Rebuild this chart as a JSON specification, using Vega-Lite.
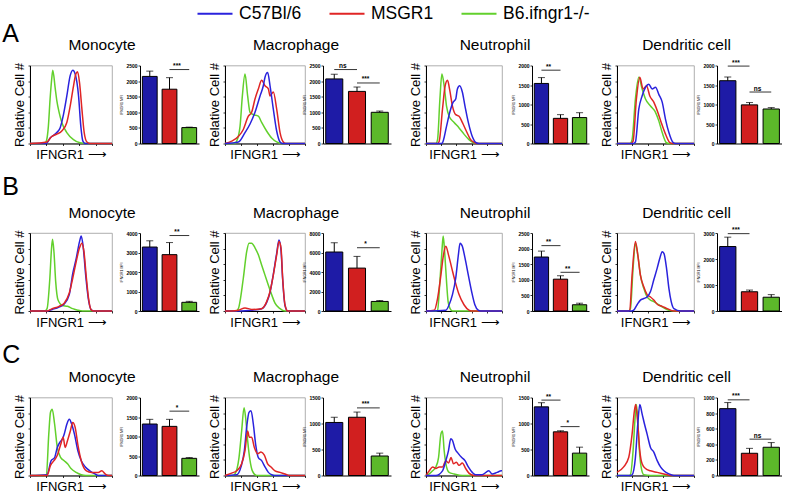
{
"$schema":"https://vega.github.io/schema/vega-lite/v6.json",
"padding":{"left":2,"top":-5.5,"right":0,"bottom":0},
"config":{
 "font":"Liberation Sans",
 "view":{"stroke":null},
 "title":{"font":"Liberation Sans","fontSize":15.5,"fontWeight":"normal","color":"#000","anchor":"middle","frame":"group","dx":31,"offset":9,"baseline":"alphabetic"},
 "axis":{"grid":false,"domainColor":"#000","domainWidth":1,"tickColor":"#000","tickWidth":0.8,"tickSize":2,"labelColor":"#000","titleColor":"#000","labelFont":"Liberation Sans","titleFont":"Liberation Sans","titleFontWeight":"normal"},
 "axisX":{"labels":false,"titleFontSize":13,"titlePadding":3,"tickCount":6},
 "axisXBand":{"ticks":false},
 "axisY":{"labelFontSize":5,"labelFontWeight":"bold","labelPadding":1,"labelOverlap":false,"labelBound":false,"format":"d","titleFontSize":3.5,"titlePadding":2,"tickCount":12}
},
"datasets":{
"hist":[
{"p":"A1","s":"B6.ifngr1-/-","x":0,"y":0},{"p":"A1","s":"B6.ifngr1-/-","x":18,"y":0},{"p":"A1","s":"B6.ifngr1-/-","x":20.4,"y":5},{"p":"A1","s":"B6.ifngr1-/-","x":22.4,"y":22},{"p":"A1","s":"B6.ifngr1-/-","x":24.5,"y":57},{"p":"A1","s":"B6.ifngr1-/-","x":26.5,"y":83},{"p":"A1","s":"B6.ifngr1-/-","x":27.8,"y":94},{"p":"A1","s":"B6.ifngr1-/-","x":30.6,"y":72},{"p":"A1","s":"B6.ifngr1-/-","x":32.7,"y":55},{"p":"A1","s":"B6.ifngr1-/-","x":35.5,"y":40},{"p":"A1","s":"B6.ifngr1-/-","x":38.8,"y":27},{"p":"A1","s":"B6.ifngr1-/-","x":44.9,"y":14},{"p":"A1","s":"B6.ifngr1-/-","x":53,"y":5},{"p":"A1","s":"B6.ifngr1-/-","x":61,"y":1},{"p":"A1","s":"B6.ifngr1-/-","x":70,"y":0},{"p":"A1","s":"B6.ifngr1-/-","x":100,"y":0},
{"p":"A1","s":"C57Bl/6","x":0,"y":0},{"p":"A1","s":"C57Bl/6","x":20,"y":0},{"p":"A1","s":"C57Bl/6","x":24.5,"y":7},{"p":"A1","s":"C57Bl/6","x":32.7,"y":14},{"p":"A1","s":"C57Bl/6","x":36.7,"y":20},{"p":"A1","s":"C57Bl/6","x":40.8,"y":37},{"p":"A1","s":"C57Bl/6","x":44.9,"y":61},{"p":"A1","s":"C57Bl/6","x":49,"y":87},{"p":"A1","s":"C57Bl/6","x":52.2,"y":94},{"p":"A1","s":"C57Bl/6","x":55.1,"y":89},{"p":"A1","s":"C57Bl/6","x":59.2,"y":61},{"p":"A1","s":"C57Bl/6","x":62,"y":22},{"p":"A1","s":"C57Bl/6","x":64.5,"y":3},{"p":"A1","s":"C57Bl/6","x":67.3,"y":0},{"p":"A1","s":"C57Bl/6","x":100,"y":0},
{"p":"A1","s":"MSGR1","x":0,"y":0},{"p":"A1","s":"MSGR1","x":20.4,"y":2},{"p":"A1","s":"MSGR1","x":26.5,"y":9},{"p":"A1","s":"MSGR1","x":32.7,"y":12},{"p":"A1","s":"MSGR1","x":38.8,"y":16},{"p":"A1","s":"MSGR1","x":44.9,"y":27},{"p":"A1","s":"MSGR1","x":49,"y":48},{"p":"A1","s":"MSGR1","x":53.1,"y":74},{"p":"A1","s":"MSGR1","x":55.9,"y":89},{"p":"A1","s":"MSGR1","x":58,"y":92},{"p":"A1","s":"MSGR1","x":60.4,"y":78},{"p":"A1","s":"MSGR1","x":63.3,"y":44},{"p":"A1","s":"MSGR1","x":66.1,"y":14},{"p":"A1","s":"MSGR1","x":69.4,"y":2},{"p":"A1","s":"MSGR1","x":73.5,"y":0},{"p":"A1","s":"MSGR1","x":100,"y":0},

{"p":"A2","s":"B6.ifngr1-/-","x":0,"y":0},{"p":"A2","s":"B6.ifngr1-/-","x":12,"y":0},{"p":"A2","s":"B6.ifngr1-/-","x":14.6,"y":3},{"p":"A2","s":"B6.ifngr1-/-","x":18.8,"y":22},{"p":"A2","s":"B6.ifngr1-/-","x":21.7,"y":61},{"p":"A2","s":"B6.ifngr1-/-","x":25,"y":89},{"p":"A2","s":"B6.ifngr1-/-","x":28.3,"y":61},{"p":"A2","s":"B6.ifngr1-/-","x":31.3,"y":40},{"p":"A2","s":"B6.ifngr1-/-","x":35.4,"y":37},{"p":"A2","s":"B6.ifngr1-/-","x":41.7,"y":35},{"p":"A2","s":"B6.ifngr1-/-","x":45.8,"y":27},{"p":"A2","s":"B6.ifngr1-/-","x":52,"y":16},{"p":"A2","s":"B6.ifngr1-/-","x":58.3,"y":7},{"p":"A2","s":"B6.ifngr1-/-","x":64.6,"y":2},{"p":"A2","s":"B6.ifngr1-/-","x":70,"y":0},{"p":"A2","s":"B6.ifngr1-/-","x":100,"y":0},
{"p":"A2","s":"MSGR1","x":0,"y":0},{"p":"A2","s":"MSGR1","x":8.3,"y":3},{"p":"A2","s":"MSGR1","x":16.7,"y":9},{"p":"A2","s":"MSGR1","x":22.9,"y":18},{"p":"A2","s":"MSGR1","x":29.2,"y":35},{"p":"A2","s":"MSGR1","x":33.3,"y":40},{"p":"A2","s":"MSGR1","x":37.5,"y":57},{"p":"A2","s":"MSGR1","x":41.7,"y":70},{"p":"A2","s":"MSGR1","x":45.8,"y":81},{"p":"A2","s":"MSGR1","x":50,"y":74},{"p":"A2","s":"MSGR1","x":54.2,"y":70},{"p":"A2","s":"MSGR1","x":56.3,"y":61},{"p":"A2","s":"MSGR1","x":60.4,"y":66},{"p":"A2","s":"MSGR1","x":64.6,"y":44},{"p":"A2","s":"MSGR1","x":68.8,"y":14},{"p":"A2","s":"MSGR1","x":72.9,"y":2},{"p":"A2","s":"MSGR1","x":76,"y":0},{"p":"A2","s":"MSGR1","x":100,"y":0},
{"p":"A2","s":"C57Bl/6","x":0,"y":0},{"p":"A2","s":"C57Bl/6","x":16.7,"y":2},{"p":"A2","s":"C57Bl/6","x":25,"y":14},{"p":"A2","s":"C57Bl/6","x":31.3,"y":25},{"p":"A2","s":"C57Bl/6","x":37.5,"y":40},{"p":"A2","s":"C57Bl/6","x":43.8,"y":61},{"p":"A2","s":"C57Bl/6","x":47.9,"y":74},{"p":"A2","s":"C57Bl/6","x":50,"y":85},{"p":"A2","s":"C57Bl/6","x":53.3,"y":91},{"p":"A2","s":"C57Bl/6","x":56.3,"y":74},{"p":"A2","s":"C57Bl/6","x":60.4,"y":44},{"p":"A2","s":"C57Bl/6","x":64.6,"y":16},{"p":"A2","s":"C57Bl/6","x":68.8,"y":2},{"p":"A2","s":"C57Bl/6","x":72,"y":0},{"p":"A2","s":"C57Bl/6","x":100,"y":0},

{"p":"A3","s":"B6.ifngr1-/-","x":0,"y":0},{"p":"A3","s":"B6.ifngr1-/-","x":13,"y":0},{"p":"A3","s":"B6.ifngr1-/-","x":15.2,"y":5},{"p":"A3","s":"B6.ifngr1-/-","x":18.3,"y":57},{"p":"A3","s":"B6.ifngr1-/-","x":20.9,"y":89},{"p":"A3","s":"B6.ifngr1-/-","x":23.9,"y":74},{"p":"A3","s":"B6.ifngr1-/-","x":27,"y":48},{"p":"A3","s":"B6.ifngr1-/-","x":30.4,"y":35},{"p":"A3","s":"B6.ifngr1-/-","x":37,"y":27},{"p":"A3","s":"B6.ifngr1-/-","x":43.5,"y":20},{"p":"A3","s":"B6.ifngr1-/-","x":50,"y":12},{"p":"A3","s":"B6.ifngr1-/-","x":56.5,"y":5},{"p":"A3","s":"B6.ifngr1-/-","x":63,"y":1},{"p":"A3","s":"B6.ifngr1-/-","x":68,"y":0},{"p":"A3","s":"B6.ifngr1-/-","x":100,"y":0},
{"p":"A3","s":"MSGR1","x":0,"y":0},{"p":"A3","s":"MSGR1","x":15,"y":0},{"p":"A3","s":"MSGR1","x":17.4,"y":3},{"p":"A3","s":"MSGR1","x":21.7,"y":44},{"p":"A3","s":"MSGR1","x":25.2,"y":74},{"p":"A3","s":"MSGR1","x":28.3,"y":81},{"p":"A3","s":"MSGR1","x":31.3,"y":68},{"p":"A3","s":"MSGR1","x":34.8,"y":48},{"p":"A3","s":"MSGR1","x":39.1,"y":37},{"p":"A3","s":"MSGR1","x":43.5,"y":35},{"p":"A3","s":"MSGR1","x":47.8,"y":27},{"p":"A3","s":"MSGR1","x":53,"y":16},{"p":"A3","s":"MSGR1","x":58.7,"y":5},{"p":"A3","s":"MSGR1","x":64.3,"y":1},{"p":"A3","s":"MSGR1","x":68,"y":0},{"p":"A3","s":"MSGR1","x":100,"y":0},
{"p":"A3","s":"C57Bl/6","x":0,"y":0},{"p":"A3","s":"C57Bl/6","x":20,"y":0},{"p":"A3","s":"C57Bl/6","x":21.7,"y":1},{"p":"A3","s":"C57Bl/6","x":27,"y":22},{"p":"A3","s":"C57Bl/6","x":31.3,"y":40},{"p":"A3","s":"C57Bl/6","x":35.7,"y":53},{"p":"A3","s":"C57Bl/6","x":39.1,"y":57},{"p":"A3","s":"C57Bl/6","x":41.3,"y":70},{"p":"A3","s":"C57Bl/6","x":44.3,"y":74},{"p":"A3","s":"C57Bl/6","x":47.8,"y":66},{"p":"A3","s":"C57Bl/6","x":51.3,"y":48},{"p":"A3","s":"C57Bl/6","x":55.7,"y":27},{"p":"A3","s":"C57Bl/6","x":60.9,"y":9},{"p":"A3","s":"C57Bl/6","x":66.1,"y":1},{"p":"A3","s":"C57Bl/6","x":70,"y":0},{"p":"A3","s":"C57Bl/6","x":100,"y":0},

{"p":"A4","s":"B6.ifngr1-/-","x":0,"y":0},{"p":"A4","s":"B6.ifngr1-/-","x":17,"y":0},{"p":"A4","s":"B6.ifngr1-/-","x":19.6,"y":5},{"p":"A4","s":"B6.ifngr1-/-","x":23.9,"y":57},{"p":"A4","s":"B6.ifngr1-/-","x":28.3,"y":85},{"p":"A4","s":"B6.ifngr1-/-","x":32.6,"y":70},{"p":"A4","s":"B6.ifngr1-/-","x":37,"y":57},{"p":"A4","s":"B6.ifngr1-/-","x":43.5,"y":48},{"p":"A4","s":"B6.ifngr1-/-","x":50,"y":40},{"p":"A4","s":"B6.ifngr1-/-","x":54.3,"y":29},{"p":"A4","s":"B6.ifngr1-/-","x":58.7,"y":14},{"p":"A4","s":"B6.ifngr1-/-","x":64.3,"y":1},{"p":"A4","s":"B6.ifngr1-/-","x":68,"y":0},{"p":"A4","s":"B6.ifngr1-/-","x":100,"y":0},
{"p":"A4","s":"MSGR1","x":0,"y":0},{"p":"A4","s":"MSGR1","x":18,"y":0},{"p":"A4","s":"MSGR1","x":20.9,"y":3},{"p":"A4","s":"MSGR1","x":25.2,"y":57},{"p":"A4","s":"MSGR1","x":29.6,"y":85},{"p":"A4","s":"MSGR1","x":33.9,"y":70},{"p":"A4","s":"MSGR1","x":38.3,"y":74},{"p":"A4","s":"MSGR1","x":42.6,"y":61},{"p":"A4","s":"MSGR1","x":47.8,"y":53},{"p":"A4","s":"MSGR1","x":53,"y":40},{"p":"A4","s":"MSGR1","x":57.4,"y":27},{"p":"A4","s":"MSGR1","x":63,"y":12},{"p":"A4","s":"MSGR1","x":68.7,"y":1},{"p":"A4","s":"MSGR1","x":72,"y":0},{"p":"A4","s":"MSGR1","x":100,"y":0},
{"p":"A4","s":"C57Bl/6","x":0,"y":0},{"p":"A4","s":"C57Bl/6","x":21,"y":0},{"p":"A4","s":"C57Bl/6","x":23.9,"y":2},{"p":"A4","s":"C57Bl/6","x":28.3,"y":44},{"p":"A4","s":"C57Bl/6","x":32.6,"y":61},{"p":"A4","s":"C57Bl/6","x":37,"y":72},{"p":"A4","s":"C57Bl/6","x":41.3,"y":76},{"p":"A4","s":"C57Bl/6","x":45.7,"y":70},{"p":"A4","s":"C57Bl/6","x":50,"y":72},{"p":"A4","s":"C57Bl/6","x":54.3,"y":63},{"p":"A4","s":"C57Bl/6","x":58.7,"y":53},{"p":"A4","s":"C57Bl/6","x":63,"y":31},{"p":"A4","s":"C57Bl/6","x":67.4,"y":14},{"p":"A4","s":"C57Bl/6","x":73,"y":1},{"p":"A4","s":"C57Bl/6","x":76,"y":0},{"p":"A4","s":"C57Bl/6","x":100,"y":0},

{"p":"B1","s":"B6.ifngr1-/-","x":0,"y":0},{"p":"B1","s":"B6.ifngr1-/-","x":18,"y":0},{"p":"B1","s":"B6.ifngr1-/-","x":20.8,"y":3},{"p":"B1","s":"B6.ifngr1-/-","x":24.2,"y":42},{"p":"B1","s":"B6.ifngr1-/-","x":26.3,"y":81},{"p":"B1","s":"B6.ifngr1-/-","x":27.5,"y":92},{"p":"B1","s":"B6.ifngr1-/-","x":29.2,"y":76},{"p":"B1","s":"B6.ifngr1-/-","x":31.3,"y":38},{"p":"B1","s":"B6.ifngr1-/-","x":34.2,"y":14},{"p":"B1","s":"B6.ifngr1-/-","x":39.6,"y":7},{"p":"B1","s":"B6.ifngr1-/-","x":45.8,"y":6},{"p":"B1","s":"B6.ifngr1-/-","x":52.1,"y":3},{"p":"B1","s":"B6.ifngr1-/-","x":58.3,"y":1},{"p":"B1","s":"B6.ifngr1-/-","x":64,"y":0},{"p":"B1","s":"B6.ifngr1-/-","x":100,"y":0},
{"p":"B1","s":"C57Bl/6","x":0,"y":0},{"p":"B1","s":"C57Bl/6","x":20.8,"y":0},{"p":"B1","s":"C57Bl/6","x":27.1,"y":2},{"p":"B1","s":"C57Bl/6","x":35.4,"y":5},{"p":"B1","s":"C57Bl/6","x":41.7,"y":9},{"p":"B1","s":"C57Bl/6","x":47.9,"y":21},{"p":"B1","s":"C57Bl/6","x":52.1,"y":48},{"p":"B1","s":"C57Bl/6","x":56.3,"y":67},{"p":"B1","s":"C57Bl/6","x":60.4,"y":89},{"p":"B1","s":"C57Bl/6","x":62.5,"y":96},{"p":"B1","s":"C57Bl/6","x":65,"y":81},{"p":"B1","s":"C57Bl/6","x":67.9,"y":46},{"p":"B1","s":"C57Bl/6","x":71.7,"y":12},{"p":"B1","s":"C57Bl/6","x":75,"y":1},{"p":"B1","s":"C57Bl/6","x":78,"y":0},{"p":"B1","s":"C57Bl/6","x":100,"y":0},
{"p":"B1","s":"MSGR1","x":0,"y":0},{"p":"B1","s":"MSGR1","x":20.8,"y":0},{"p":"B1","s":"MSGR1","x":27.1,"y":3},{"p":"B1","s":"MSGR1","x":35.4,"y":6},{"p":"B1","s":"MSGR1","x":41.7,"y":10},{"p":"B1","s":"MSGR1","x":47.9,"y":23},{"p":"B1","s":"MSGR1","x":52.1,"y":42},{"p":"B1","s":"MSGR1","x":56.3,"y":63},{"p":"B1","s":"MSGR1","x":60.4,"y":81},{"p":"B1","s":"MSGR1","x":63.3,"y":87},{"p":"B1","s":"MSGR1","x":65.8,"y":76},{"p":"B1","s":"MSGR1","x":68.8,"y":42},{"p":"B1","s":"MSGR1","x":71.7,"y":14},{"p":"B1","s":"MSGR1","x":75,"y":1},{"p":"B1","s":"MSGR1","x":78,"y":0},{"p":"B1","s":"MSGR1","x":100,"y":0},

{"p":"B2","s":"B6.ifngr1-/-","x":0,"y":0},{"p":"B2","s":"B6.ifngr1-/-","x":14,"y":0},{"p":"B2","s":"B6.ifngr1-/-","x":16.7,"y":3},{"p":"B2","s":"B6.ifngr1-/-","x":22.9,"y":42},{"p":"B2","s":"B6.ifngr1-/-","x":27.1,"y":76},{"p":"B2","s":"B6.ifngr1-/-","x":30,"y":87},{"p":"B2","s":"B6.ifngr1-/-","x":33.3,"y":87},{"p":"B2","s":"B6.ifngr1-/-","x":37.5,"y":81},{"p":"B2","s":"B6.ifngr1-/-","x":41.7,"y":72},{"p":"B2","s":"B6.ifngr1-/-","x":45.8,"y":59},{"p":"B2","s":"B6.ifngr1-/-","x":50,"y":46},{"p":"B2","s":"B6.ifngr1-/-","x":54.2,"y":33},{"p":"B2","s":"B6.ifngr1-/-","x":58.3,"y":21},{"p":"B2","s":"B6.ifngr1-/-","x":62.5,"y":10},{"p":"B2","s":"B6.ifngr1-/-","x":68.8,"y":3},{"p":"B2","s":"B6.ifngr1-/-","x":75,"y":0},{"p":"B2","s":"B6.ifngr1-/-","x":100,"y":0},
{"p":"B2","s":"C57Bl/6","x":0,"y":0},{"p":"B2","s":"C57Bl/6","x":20,"y":0},{"p":"B2","s":"C57Bl/6","x":33.3,"y":1},{"p":"B2","s":"C57Bl/6","x":45.8,"y":3},{"p":"B2","s":"C57Bl/6","x":52.1,"y":11},{"p":"B2","s":"C57Bl/6","x":56.3,"y":24},{"p":"B2","s":"C57Bl/6","x":60.4,"y":47},{"p":"B2","s":"C57Bl/6","x":64.6,"y":74},{"p":"B2","s":"C57Bl/6","x":67.5,"y":91},{"p":"B2","s":"C57Bl/6","x":70,"y":78},{"p":"B2","s":"C57Bl/6","x":72.1,"y":40},{"p":"B2","s":"C57Bl/6","x":75,"y":7},{"p":"B2","s":"C57Bl/6","x":78.3,"y":0},{"p":"B2","s":"C57Bl/6","x":100,"y":0},
{"p":"B2","s":"MSGR1","x":0,"y":0},{"p":"B2","s":"MSGR1","x":8.3,"y":0},{"p":"B2","s":"MSGR1","x":16.7,"y":1},{"p":"B2","s":"MSGR1","x":25,"y":4},{"p":"B2","s":"MSGR1","x":33.3,"y":2},{"p":"B2","s":"MSGR1","x":45.8,"y":3},{"p":"B2","s":"MSGR1","x":52.1,"y":12},{"p":"B2","s":"MSGR1","x":56.3,"y":25},{"p":"B2","s":"MSGR1","x":60.4,"y":46},{"p":"B2","s":"MSGR1","x":64.6,"y":72},{"p":"B2","s":"MSGR1","x":67.5,"y":89},{"p":"B2","s":"MSGR1","x":70,"y":81},{"p":"B2","s":"MSGR1","x":72.1,"y":42},{"p":"B2","s":"MSGR1","x":75,"y":8},{"p":"B2","s":"MSGR1","x":78.3,"y":0},{"p":"B2","s":"MSGR1","x":100,"y":0},

{"p":"B3","s":"B6.ifngr1-/-","x":0,"y":0},{"p":"B3","s":"B6.ifngr1-/-","x":13,"y":0},{"p":"B3","s":"B6.ifngr1-/-","x":15.2,"y":1},{"p":"B3","s":"B6.ifngr1-/-","x":18.3,"y":38},{"p":"B3","s":"B6.ifngr1-/-","x":20.9,"y":76},{"p":"B3","s":"B6.ifngr1-/-","x":22.6,"y":96},{"p":"B3","s":"B6.ifngr1-/-","x":24.8,"y":72},{"p":"B3","s":"B6.ifngr1-/-","x":27,"y":38},{"p":"B3","s":"B6.ifngr1-/-","x":29.1,"y":12},{"p":"B3","s":"B6.ifngr1-/-","x":31.7,"y":3},{"p":"B3","s":"B6.ifngr1-/-","x":34.8,"y":0},{"p":"B3","s":"B6.ifngr1-/-","x":100,"y":0},
{"p":"B3","s":"MSGR1","x":0,"y":0},{"p":"B3","s":"MSGR1","x":10.9,"y":1},{"p":"B3","s":"MSGR1","x":15.2,"y":16},{"p":"B3","s":"MSGR1","x":19.6,"y":46},{"p":"B3","s":"MSGR1","x":23,"y":72},{"p":"B3","s":"MSGR1","x":26.1,"y":83},{"p":"B3","s":"MSGR1","x":29.6,"y":72},{"p":"B3","s":"MSGR1","x":33.9,"y":55},{"p":"B3","s":"MSGR1","x":38.3,"y":38},{"p":"B3","s":"MSGR1","x":43.5,"y":21},{"p":"B3","s":"MSGR1","x":50,"y":8},{"p":"B3","s":"MSGR1","x":56.5,"y":1},{"p":"B3","s":"MSGR1","x":60,"y":0},{"p":"B3","s":"MSGR1","x":100,"y":0},
{"p":"B3","s":"C57Bl/6","x":0,"y":0},{"p":"B3","s":"C57Bl/6","x":26.1,"y":1},{"p":"B3","s":"C57Bl/6","x":30.4,"y":8},{"p":"B3","s":"C57Bl/6","x":34.8,"y":21},{"p":"B3","s":"C57Bl/6","x":39.1,"y":42},{"p":"B3","s":"C57Bl/6","x":42.6,"y":72},{"p":"B3","s":"C57Bl/6","x":44.8,"y":87},{"p":"B3","s":"C57Bl/6","x":47.8,"y":83},{"p":"B3","s":"C57Bl/6","x":51.3,"y":68},{"p":"B3","s":"C57Bl/6","x":55.7,"y":46},{"p":"B3","s":"C57Bl/6","x":60,"y":25},{"p":"B3","s":"C57Bl/6","x":64.3,"y":8},{"p":"B3","s":"C57Bl/6","x":68.7,"y":1},{"p":"B3","s":"C57Bl/6","x":72,"y":0},{"p":"B3","s":"C57Bl/6","x":100,"y":0},

{"p":"B4","s":"B6.ifngr1-/-","x":0,"y":0},{"p":"B4","s":"B6.ifngr1-/-","x":15,"y":0},{"p":"B4","s":"B6.ifngr1-/-","x":17.4,"y":3},{"p":"B4","s":"B6.ifngr1-/-","x":20.9,"y":55},{"p":"B4","s":"B6.ifngr1-/-","x":23.9,"y":87},{"p":"B4","s":"B6.ifngr1-/-","x":27,"y":72},{"p":"B4","s":"B6.ifngr1-/-","x":30.4,"y":46},{"p":"B4","s":"B6.ifngr1-/-","x":34.8,"y":29},{"p":"B4","s":"B6.ifngr1-/-","x":39.1,"y":18},{"p":"B4","s":"B6.ifngr1-/-","x":43.5,"y":14},{"p":"B4","s":"B6.ifngr1-/-","x":47.8,"y":12},{"p":"B4","s":"B6.ifngr1-/-","x":54.3,"y":8},{"p":"B4","s":"B6.ifngr1-/-","x":60.9,"y":4},{"p":"B4","s":"B6.ifngr1-/-","x":67.4,"y":1},{"p":"B4","s":"B6.ifngr1-/-","x":73.9,"y":0},{"p":"B4","s":"B6.ifngr1-/-","x":100,"y":0},
{"p":"B4","s":"MSGR1","x":0,"y":0},{"p":"B4","s":"MSGR1","x":14,"y":0},{"p":"B4","s":"MSGR1","x":16.5,"y":1},{"p":"B4","s":"MSGR1","x":19.6,"y":46},{"p":"B4","s":"MSGR1","x":23.9,"y":89},{"p":"B4","s":"MSGR1","x":27,"y":72},{"p":"B4","s":"MSGR1","x":30.4,"y":46},{"p":"B4","s":"MSGR1","x":34.8,"y":31},{"p":"B4","s":"MSGR1","x":39.1,"y":21},{"p":"B4","s":"MSGR1","x":43.5,"y":18},{"p":"B4","s":"MSGR1","x":47.8,"y":14},{"p":"B4","s":"MSGR1","x":53,"y":8},{"p":"B4","s":"MSGR1","x":58.7,"y":6},{"p":"B4","s":"MSGR1","x":65.2,"y":3},{"p":"B4","s":"MSGR1","x":73.9,"y":0},{"p":"B4","s":"MSGR1","x":100,"y":0},
{"p":"B4","s":"C57Bl/6","x":0,"y":0},{"p":"B4","s":"C57Bl/6","x":19,"y":0},{"p":"B4","s":"C57Bl/6","x":21.7,"y":1},{"p":"B4","s":"C57Bl/6","x":26.1,"y":8},{"p":"B4","s":"C57Bl/6","x":30.4,"y":14},{"p":"B4","s":"C57Bl/6","x":34.8,"y":16},{"p":"B4","s":"C57Bl/6","x":39.1,"y":18},{"p":"B4","s":"C57Bl/6","x":43.5,"y":25},{"p":"B4","s":"C57Bl/6","x":47.8,"y":40},{"p":"B4","s":"C57Bl/6","x":52.2,"y":55},{"p":"B4","s":"C57Bl/6","x":55.7,"y":68},{"p":"B4","s":"C57Bl/6","x":58.7,"y":76},{"p":"B4","s":"C57Bl/6","x":60.9,"y":74},{"p":"B4","s":"C57Bl/6","x":64.3,"y":55},{"p":"B4","s":"C57Bl/6","x":67.4,"y":29},{"p":"B4","s":"C57Bl/6","x":70.4,"y":12},{"p":"B4","s":"C57Bl/6","x":73.9,"y":3},{"p":"B4","s":"C57Bl/6","x":82.6,"y":0},{"p":"B4","s":"C57Bl/6","x":100,"y":0},

{"p":"C1","s":"B6.ifngr1-/-","x":0,"y":0},{"p":"C1","s":"B6.ifngr1-/-","x":18,"y":0},{"p":"C1","s":"B6.ifngr1-/-","x":20,"y":1},{"p":"C1","s":"B6.ifngr1-/-","x":22.9,"y":53},{"p":"C1","s":"B6.ifngr1-/-","x":25,"y":81},{"p":"C1","s":"B6.ifngr1-/-","x":27.1,"y":85},{"p":"C1","s":"B6.ifngr1-/-","x":30,"y":66},{"p":"C1","s":"B6.ifngr1-/-","x":33.3,"y":36},{"p":"C1","s":"B6.ifngr1-/-","x":37.5,"y":23},{"p":"C1","s":"B6.ifngr1-/-","x":41.7,"y":19},{"p":"C1","s":"B6.ifngr1-/-","x":45.8,"y":15},{"p":"C1","s":"B6.ifngr1-/-","x":50,"y":9},{"p":"C1","s":"B6.ifngr1-/-","x":56.3,"y":4},{"p":"C1","s":"B6.ifngr1-/-","x":62.5,"y":1},{"p":"C1","s":"B6.ifngr1-/-","x":68,"y":0},{"p":"C1","s":"B6.ifngr1-/-","x":100,"y":0},
{"p":"C1","s":"C57Bl/6","x":0,"y":0},{"p":"C1","s":"C57Bl/6","x":20.8,"y":1},{"p":"C1","s":"C57Bl/6","x":25.8,"y":19},{"p":"C1","s":"C57Bl/6","x":30,"y":23},{"p":"C1","s":"C57Bl/6","x":33.3,"y":36},{"p":"C1","s":"C57Bl/6","x":36.7,"y":43},{"p":"C1","s":"C57Bl/6","x":39.6,"y":47},{"p":"C1","s":"C57Bl/6","x":41.7,"y":53},{"p":"C1","s":"C57Bl/6","x":45,"y":66},{"p":"C1","s":"C57Bl/6","x":47.9,"y":72},{"p":"C1","s":"C57Bl/6","x":50.8,"y":66},{"p":"C1","s":"C57Bl/6","x":54.2,"y":53},{"p":"C1","s":"C57Bl/6","x":58.3,"y":32},{"p":"C1","s":"C57Bl/6","x":62.5,"y":19},{"p":"C1","s":"C57Bl/6","x":67.5,"y":11},{"p":"C1","s":"C57Bl/6","x":72.9,"y":6},{"p":"C1","s":"C57Bl/6","x":79.2,"y":2},{"p":"C1","s":"C57Bl/6","x":83.3,"y":0},{"p":"C1","s":"C57Bl/6","x":100,"y":0},
{"p":"C1","s":"MSGR1","x":0,"y":0},{"p":"C1","s":"MSGR1","x":20.8,"y":0},{"p":"C1","s":"MSGR1","x":25,"y":13},{"p":"C1","s":"MSGR1","x":29.2,"y":19},{"p":"C1","s":"MSGR1","x":33.3,"y":26},{"p":"C1","s":"MSGR1","x":37.5,"y":40},{"p":"C1","s":"MSGR1","x":40.4,"y":49},{"p":"C1","s":"MSGR1","x":42.9,"y":36},{"p":"C1","s":"MSGR1","x":45.8,"y":45},{"p":"C1","s":"MSGR1","x":49.2,"y":57},{"p":"C1","s":"MSGR1","x":52.1,"y":68},{"p":"C1","s":"MSGR1","x":55,"y":62},{"p":"C1","s":"MSGR1","x":58.3,"y":40},{"p":"C1","s":"MSGR1","x":62.5,"y":19},{"p":"C1","s":"MSGR1","x":68.8,"y":6},{"p":"C1","s":"MSGR1","x":75,"y":4},{"p":"C1","s":"MSGR1","x":83.3,"y":4},{"p":"C1","s":"MSGR1","x":87.5,"y":6},{"p":"C1","s":"MSGR1","x":91.7,"y":2},{"p":"C1","s":"MSGR1","x":95.8,"y":0},{"p":"C1","s":"MSGR1","x":100,"y":0},

{"p":"C2","s":"B6.ifngr1-/-","x":0,"y":0},{"p":"C2","s":"B6.ifngr1-/-","x":10,"y":0},{"p":"C2","s":"B6.ifngr1-/-","x":12.5,"y":2},{"p":"C2","s":"B6.ifngr1-/-","x":17.5,"y":23},{"p":"C2","s":"B6.ifngr1-/-","x":20.8,"y":57},{"p":"C2","s":"B6.ifngr1-/-","x":23.8,"y":87},{"p":"C2","s":"B6.ifngr1-/-","x":25.8,"y":74},{"p":"C2","s":"B6.ifngr1-/-","x":28.3,"y":45},{"p":"C2","s":"B6.ifngr1-/-","x":31.3,"y":19},{"p":"C2","s":"B6.ifngr1-/-","x":34.2,"y":6},{"p":"C2","s":"B6.ifngr1-/-","x":39.6,"y":0},{"p":"C2","s":"B6.ifngr1-/-","x":100,"y":0},
{"p":"C2","s":"C57Bl/6","x":0,"y":0},{"p":"C2","s":"C57Bl/6","x":14.6,"y":1},{"p":"C2","s":"C57Bl/6","x":20,"y":11},{"p":"C2","s":"C57Bl/6","x":24.2,"y":32},{"p":"C2","s":"C57Bl/6","x":27.1,"y":62},{"p":"C2","s":"C57Bl/6","x":30,"y":81},{"p":"C2","s":"C57Bl/6","x":32.5,"y":83},{"p":"C2","s":"C57Bl/6","x":35.4,"y":66},{"p":"C2","s":"C57Bl/6","x":38.3,"y":40},{"p":"C2","s":"C57Bl/6","x":41.7,"y":23},{"p":"C2","s":"C57Bl/6","x":45.8,"y":19},{"p":"C2","s":"C57Bl/6","x":50,"y":11},{"p":"C2","s":"C57Bl/6","x":54.2,"y":4},{"p":"C2","s":"C57Bl/6","x":58.3,"y":1},{"p":"C2","s":"C57Bl/6","x":62,"y":0},{"p":"C2","s":"C57Bl/6","x":100,"y":0},
{"p":"C2","s":"MSGR1","x":0,"y":0},{"p":"C2","s":"MSGR1","x":8.3,"y":3},{"p":"C2","s":"MSGR1","x":14.6,"y":6},{"p":"C2","s":"MSGR1","x":20.8,"y":15},{"p":"C2","s":"MSGR1","x":25,"y":32},{"p":"C2","s":"MSGR1","x":28.3,"y":57},{"p":"C2","s":"MSGR1","x":30.4,"y":49},{"p":"C2","s":"MSGR1","x":33.3,"y":49},{"p":"C2","s":"MSGR1","x":36.7,"y":36},{"p":"C2","s":"MSGR1","x":40.8,"y":28},{"p":"C2","s":"MSGR1","x":45,"y":30},{"p":"C2","s":"MSGR1","x":49.2,"y":26},{"p":"C2","s":"MSGR1","x":53.3,"y":15},{"p":"C2","s":"MSGR1","x":57.5,"y":11},{"p":"C2","s":"MSGR1","x":62.5,"y":6},{"p":"C2","s":"MSGR1","x":68.8,"y":4},{"p":"C2","s":"MSGR1","x":75,"y":2},{"p":"C2","s":"MSGR1","x":81.3,"y":0},{"p":"C2","s":"MSGR1","x":100,"y":0},

{"p":"C3","s":"B6.ifngr1-/-","x":0,"y":0},{"p":"C3","s":"B6.ifngr1-/-","x":4.3,"y":2},{"p":"C3","s":"B6.ifngr1-/-","x":8.7,"y":6},{"p":"C3","s":"B6.ifngr1-/-","x":13,"y":11},{"p":"C3","s":"B6.ifngr1-/-","x":16.5,"y":23},{"p":"C3","s":"B6.ifngr1-/-","x":19.6,"y":53},{"p":"C3","s":"B6.ifngr1-/-","x":21.7,"y":57},{"p":"C3","s":"B6.ifngr1-/-","x":23.9,"y":32},{"p":"C3","s":"B6.ifngr1-/-","x":27,"y":11},{"p":"C3","s":"B6.ifngr1-/-","x":30.4,"y":4},{"p":"C3","s":"B6.ifngr1-/-","x":37,"y":2},{"p":"C3","s":"B6.ifngr1-/-","x":47.8,"y":0},{"p":"C3","s":"B6.ifngr1-/-","x":100,"y":0},
{"p":"C3","s":"MSGR1","x":0,"y":0},{"p":"C3","s":"MSGR1","x":4.3,"y":6},{"p":"C3","s":"MSGR1","x":8.7,"y":11},{"p":"C3","s":"MSGR1","x":13,"y":9},{"p":"C3","s":"MSGR1","x":17.4,"y":11},{"p":"C3","s":"MSGR1","x":21.7,"y":11},{"p":"C3","s":"MSGR1","x":26.1,"y":19},{"p":"C3","s":"MSGR1","x":29.6,"y":16},{"p":"C3","s":"MSGR1","x":33,"y":23},{"p":"C3","s":"MSGR1","x":36.1,"y":15},{"p":"C3","s":"MSGR1","x":40,"y":17},{"p":"C3","s":"MSGR1","x":43.5,"y":13},{"p":"C3","s":"MSGR1","x":47.8,"y":16},{"p":"C3","s":"MSGR1","x":52.2,"y":9},{"p":"C3","s":"MSGR1","x":56.5,"y":3},{"p":"C3","s":"MSGR1","x":63,"y":0},{"p":"C3","s":"MSGR1","x":100,"y":0},
{"p":"C3","s":"C57Bl/6","x":0,"y":0},{"p":"C3","s":"C57Bl/6","x":13,"y":0},{"p":"C3","s":"C57Bl/6","x":21.7,"y":6},{"p":"C3","s":"C57Bl/6","x":26.1,"y":19},{"p":"C3","s":"C57Bl/6","x":29.6,"y":32},{"p":"C3","s":"C57Bl/6","x":32.6,"y":47},{"p":"C3","s":"C57Bl/6","x":34.8,"y":45},{"p":"C3","s":"C57Bl/6","x":38.3,"y":34},{"p":"C3","s":"C57Bl/6","x":42.6,"y":28},{"p":"C3","s":"C57Bl/6","x":47,"y":23},{"p":"C3","s":"C57Bl/6","x":51.3,"y":19},{"p":"C3","s":"C57Bl/6","x":55.7,"y":11},{"p":"C3","s":"C57Bl/6","x":60.9,"y":4},{"p":"C3","s":"C57Bl/6","x":65.2,"y":1},{"p":"C3","s":"C57Bl/6","x":73.9,"y":1},{"p":"C3","s":"C57Bl/6","x":82.6,"y":6},{"p":"C3","s":"C57Bl/6","x":87,"y":2},{"p":"C3","s":"C57Bl/6","x":93.5,"y":4},{"p":"C3","s":"C57Bl/6","x":99.1,"y":6},{"p":"C3","s":"C57Bl/6","x":100,"y":6},

{"p":"C4","s":"B6.ifngr1-/-","x":0,"y":0},{"p":"C4","s":"B6.ifngr1-/-","x":15,"y":0},{"p":"C4","s":"B6.ifngr1-/-","x":17.4,"y":1},{"p":"C4","s":"B6.ifngr1-/-","x":20.9,"y":32},{"p":"C4","s":"B6.ifngr1-/-","x":23.5,"y":74},{"p":"C4","s":"B6.ifngr1-/-","x":25.2,"y":91},{"p":"C4","s":"B6.ifngr1-/-","x":27,"y":70},{"p":"C4","s":"B6.ifngr1-/-","x":29.1,"y":32},{"p":"C4","s":"B6.ifngr1-/-","x":31.3,"y":11},{"p":"C4","s":"B6.ifngr1-/-","x":34.8,"y":1},{"p":"C4","s":"B6.ifngr1-/-","x":43.5,"y":0},{"p":"C4","s":"B6.ifngr1-/-","x":100,"y":0},
{"p":"C4","s":"MSGR1","x":0,"y":4},{"p":"C4","s":"MSGR1","x":8.7,"y":11},{"p":"C4","s":"MSGR1","x":15.2,"y":23},{"p":"C4","s":"MSGR1","x":19.6,"y":53},{"p":"C4","s":"MSGR1","x":22.6,"y":83},{"p":"C4","s":"MSGR1","x":24.3,"y":91},{"p":"C4","s":"MSGR1","x":27,"y":66},{"p":"C4","s":"MSGR1","x":29.6,"y":32},{"p":"C4","s":"MSGR1","x":32.6,"y":15},{"p":"C4","s":"MSGR1","x":37,"y":9},{"p":"C4","s":"MSGR1","x":43.5,"y":6},{"p":"C4","s":"MSGR1","x":52.2,"y":4},{"p":"C4","s":"MSGR1","x":60.9,"y":2},{"p":"C4","s":"MSGR1","x":69.6,"y":0},{"p":"C4","s":"MSGR1","x":100,"y":0},
{"p":"C4","s":"C57Bl/6","x":0,"y":0},{"p":"C4","s":"C57Bl/6","x":17,"y":0},{"p":"C4","s":"C57Bl/6","x":19.6,"y":1},{"p":"C4","s":"C57Bl/6","x":23.9,"y":23},{"p":"C4","s":"C57Bl/6","x":27,"y":66},{"p":"C4","s":"C57Bl/6","x":29.6,"y":91},{"p":"C4","s":"C57Bl/6","x":32.6,"y":79},{"p":"C4","s":"C57Bl/6","x":35.7,"y":66},{"p":"C4","s":"C57Bl/6","x":39.1,"y":53},{"p":"C4","s":"C57Bl/6","x":43.5,"y":36},{"p":"C4","s":"C57Bl/6","x":47.8,"y":30},{"p":"C4","s":"C57Bl/6","x":52.2,"y":19},{"p":"C4","s":"C57Bl/6","x":56.5,"y":11},{"p":"C4","s":"C57Bl/6","x":60.9,"y":6},{"p":"C4","s":"C57Bl/6","x":67.4,"y":2},{"p":"C4","s":"C57Bl/6","x":73.9,"y":0},{"p":"C4","s":"C57Bl/6","x":100,"y":0}
],
"bars":[
{"p":"A1","s":"C57Bl/6","v":2150,"e":2320},{"p":"A1","s":"MSGR1","v":1740,"e":2110},{"p":"A1","s":"B6.ifngr1-/-","v":510,"e":525},
{"p":"A2","s":"C57Bl/6","v":2070,"e":2220},{"p":"A2","s":"MSGR1","v":1670,"e":1810},{"p":"A2","s":"B6.ifngr1-/-","v":1000,"e":1040},
{"p":"A3","s":"C57Bl/6","v":1540,"e":1690},{"p":"A3","s":"MSGR1","v":645,"e":740},{"p":"A3","s":"B6.ifngr1-/-","v":665,"e":790},
{"p":"A4","s":"C57Bl/6","v":1610,"e":1705},{"p":"A4","s":"MSGR1","v":990,"e":1050},{"p":"A4","s":"B6.ifngr1-/-","v":885,"e":920},
{"p":"B1","s":"C57Bl/6","v":3280,"e":3600},{"p":"B1","s":"MSGR1","v":2890,"e":3510},{"p":"B1","s":"B6.ifngr1-/-","v":445,"e":495},
{"p":"B2","s":"C57Bl/6","v":6050,"e":7000},{"p":"B2","s":"MSGR1","v":4400,"e":5600},{"p":"B2","s":"B6.ifngr1-/-","v":980,"e":1080},
{"p":"B3","s":"C57Bl/6","v":1730,"e":1920},{"p":"B3","s":"MSGR1","v":1020,"e":1130},{"p":"B3","s":"B6.ifngr1-/-","v":200,"e":250},
{"p":"B4","s":"C57Bl/6","v":2480,"e":2840},{"p":"B4","s":"MSGR1","v":740,"e":805},{"p":"B4","s":"B6.ifngr1-/-","v":530,"e":630},
{"p":"C1","s":"C57Bl/6","v":1320,"e":1440},{"p":"C1","s":"MSGR1","v":1260,"e":1440},{"p":"C1","s":"B6.ifngr1-/-","v":440,"e":460},
{"p":"C2","s":"C57Bl/6","v":1020,"e":1120},{"p":"C2","s":"MSGR1","v":1120,"e":1220},{"p":"C2","s":"B6.ifngr1-/-","v":375,"e":430},
{"p":"C3","s":"C57Bl/6","v":1320,"e":1400},{"p":"C3","s":"MSGR1","v":840,"e":860},{"p":"C3","s":"B6.ifngr1-/-","v":430,"e":545},
{"p":"C4","s":"C57Bl/6","v":857,"e":935},{"p":"C4","s":"MSGR1","v":285,"e":348},{"p":"C4","s":"B6.ifngr1-/-","v":362,"e":422}
],
"sig":[
{"p":"A1","a":"MSGR1","b":"B6.ifngr1-/-","y":2370,"t":"***"},
{"p":"A2","a":"C57Bl/6","b":"MSGR1","y":2370,"t":"ns"},{"p":"A2","a":"MSGR1","b":"B6.ifngr1-/-","y":1940,"t":"***"},
{"p":"A3","a":"C57Bl/6","b":"MSGR1","y":1880,"t":"**"},
{"p":"A4","a":"C57Bl/6","b":"MSGR1","y":1985,"t":"***"},{"p":"A4","a":"MSGR1","b":"B6.ifngr1-/-","y":1320,"t":"ns"},
{"p":"B1","a":"MSGR1","b":"B6.ifngr1-/-","y":3870,"t":"**"},
{"p":"B2","a":"MSGR1","b":"B6.ifngr1-/-","y":6490,"t":"*"},
{"p":"B3","a":"C57Bl/6","b":"MSGR1","y":2095,"t":"**"},{"p":"B3","a":"MSGR1","b":"B6.ifngr1-/-","y":1240,"t":"**"},
{"p":"B4","a":"C57Bl/6","b":"MSGR1","y":2975,"t":"***"},
{"p":"C1","a":"MSGR1","b":"B6.ifngr1-/-","y":1650,"t":"*"},
{"p":"C2","a":"MSGR1","b":"B6.ifngr1-/-","y":1300,"t":"***"},
{"p":"C3","a":"C57Bl/6","b":"MSGR1","y":1450,"t":"**"},{"p":"C3","a":"MSGR1","b":"B6.ifngr1-/-","y":940,"t":"*"},
{"p":"C4","a":"C57Bl/6","b":"MSGR1","y":970,"t":"***"},{"p":"C4","a":"MSGR1","b":"B6.ifngr1-/-","y":466,"t":"ns"}
]
},
"spacing":12.5,
"vconcat":[
{"title":{"text":"A","fontSize":25,"anchor":"start","frame":"bounds","dx":-11,"offset":-9},"spacing":18,"hconcat":[
 {"spacing":9,"hconcat":[
  {"bounds":"flush","spacing":28,"hconcat":[
   {"width":82,"height":78,"view":{"stroke":"#9a9a9a","strokeWidth":0.8},"title":{"text":"Monocyte"},"data":{"name":"hist"},"transform":[{"filter":"datum.p==='A1'"}],"mark":{"type":"line","interpolate":"monotone","strokeWidth":1.5},"encoding":{"x":{"field":"x","type":"quantitative","scale":{"domain":[0,100]},"axis":{"title":"IFNGR1 ⟶"}},"y":{"field":"y","type":"quantitative","scale":{"domain":[0,100]},"axis":{"title":"Relative Cell #","labels":false,"titleFontSize":13,"titlePadding":1,"tickCount":5}},"stroke":{"field":"s","type":"nominal","title":null,"scale":{"domain":["C57Bl/6","MSGR1","B6.ifngr1-/-"],"range":["#2a22dd","#e02525","#62d02c"]},"legend":{"orient":"none","legendX":166,"legendY":-71,"direction":"horizontal","columns":3,"symbolType":"stroke","symbolSize":1225,"symbolStrokeWidth":2.2,"labelFontSize":17.5,"labelFont":"Liberation Sans","labelColor":"#000","labelOffset":5,"columnPadding":23,"padding":0,"labelLimit":300}}}},
   {"width":59,"height":78,"layer":[
    {"data":{"name":"bars"},"transform":[{"filter":"datum.p==='A1'"}],"mark":{"type":"bar","stroke":"#000","strokeWidth":1},"encoding":{"x":{"field":"s","type":"nominal","title":null,"scale":{"domain":["C57Bl/6","MSGR1","B6.ifngr1-/-"],"paddingInner":0.25,"paddingOuter":0.12}},"y":{"field":"v","type":"quantitative","scale":{"domain":[0,2500],"nice":false},"axis":{"title":"IFNGR1 MFI","values":[0,500,1000,1500,2000,2500],"labelOverlap":false,"tickCount":12}},"fill":{"field":"s","type":"nominal","legend":null,"scale":{"domain":["C57Bl/6","MSGR1","B6.ifngr1-/-"],"range":["#1e1ba6","#d11f1f","#5cb82a"]}}}},
    {"data":{"name":"bars"},"transform":[{"filter":"datum.p==='A1'"}],"mark":{"type":"rule","color":"#000","strokeWidth":1},"encoding":{"x":{"field":"s","type":"nominal","title":null},"y":{"field":"v","type":"quantitative"},"y2":{"field":"e"}}},
    {"data":{"name":"bars"},"transform":[{"filter":"datum.p==='A1'"}],"mark":{"type":"tick","color":"#000","thickness":1,"size":7},"encoding":{"x":{"field":"s","type":"nominal","title":null},"y":{"field":"e","type":"quantitative"}}},
    {"data":{"name":"sig"},"transform":[{"filter":"datum.p==='A1'"}],"mark":{"type":"rule","color":"#000","strokeWidth":0.8},"encoding":{"x":{"field":"a","type":"nominal","title":null},"x2":{"field":"b"},"y":{"field":"y","type":"quantitative"}}},
    {"data":{"name":"sig"},"transform":[{"filter":"datum.p==='A1'"}],"mark":{"type":"text","fontSize":6.5,"fontWeight":"bold","baseline":"bottom","dy":-0.5},"encoding":{"x":{"field":"a","type":"nominal","title":null,"bandPosition":1},"y":{"field":"y","type":"quantitative"},"text":{"field":"t"}}}
   ]}
  ]},
  {"bounds":"flush","spacing":18,"hconcat":[
   {"width":80,"height":78,"view":{"stroke":"#9a9a9a","strokeWidth":0.8},"title":{"text":"Macrophage"},"data":{"name":"hist"},"transform":[{"filter":"datum.p==='A2'"}],"mark":{"type":"line","interpolate":"monotone","strokeWidth":1.5},"encoding":{"x":{"field":"x","type":"quantitative","scale":{"domain":[0,100]},"axis":{"title":"IFNGR1 ⟶"}},"y":{"field":"y","type":"quantitative","scale":{"domain":[0,100]},"axis":{"title":"Relative Cell #","labels":false,"titleFontSize":13,"titlePadding":1,"tickCount":5}},"stroke":{"field":"s","type":"nominal","title":null,"scale":{"domain":["C57Bl/6","MSGR1","B6.ifngr1-/-"],"range":["#2a22dd","#e02525","#62d02c"]}}}},
   {"width":68,"height":78,"layer":[
    {"data":{"name":"bars"},"transform":[{"filter":"datum.p==='A2'"}],"mark":{"type":"bar","stroke":"#000","strokeWidth":1},"encoding":{"x":{"field":"s","type":"nominal","title":null,"scale":{"domain":["C57Bl/6","MSGR1","B6.ifngr1-/-"],"paddingInner":0.25,"paddingOuter":0.12}},"y":{"field":"v","type":"quantitative","scale":{"domain":[0,2500],"nice":false},"axis":{"title":"IFNGR1 MFI","values":[0,500,1000,1500,2000,2500],"labelOverlap":false,"tickCount":12}},"fill":{"field":"s","type":"nominal","legend":null,"scale":{"domain":["C57Bl/6","MSGR1","B6.ifngr1-/-"],"range":["#1e1ba6","#d11f1f","#5cb82a"]}}}},
    {"data":{"name":"bars"},"transform":[{"filter":"datum.p==='A2'"}],"mark":{"type":"rule","color":"#000","strokeWidth":1},"encoding":{"x":{"field":"s","type":"nominal","title":null},"y":{"field":"v","type":"quantitative"},"y2":{"field":"e"}}},
    {"data":{"name":"bars"},"transform":[{"filter":"datum.p==='A2'"}],"mark":{"type":"tick","color":"#000","thickness":1,"size":7},"encoding":{"x":{"field":"s","type":"nominal","title":null},"y":{"field":"e","type":"quantitative"}}},
    {"data":{"name":"sig"},"transform":[{"filter":"datum.p==='A2'"}],"mark":{"type":"rule","color":"#000","strokeWidth":0.8},"encoding":{"x":{"field":"a","type":"nominal","title":null},"x2":{"field":"b"},"y":{"field":"y","type":"quantitative"}}},
    {"data":{"name":"sig"},"transform":[{"filter":"datum.p==='A2'"}],"mark":{"type":"text","fontSize":6.5,"fontWeight":"bold","baseline":"bottom","dy":-0.5},"encoding":{"x":{"field":"a","type":"nominal","title":null,"bandPosition":1},"y":{"field":"y","type":"quantitative"},"text":{"field":"t"}}}
   ]}
  ]}
 ]},
 {"spacing":11,"hconcat":[
  {"bounds":"flush","spacing":30,"hconcat":[
   {"width":76,"height":78,"view":{"stroke":"#9a9a9a","strokeWidth":0.8},"title":{"text":"Neutrophil"},"data":{"name":"hist"},"transform":[{"filter":"datum.p==='A3'"}],"mark":{"type":"line","interpolate":"monotone","strokeWidth":1.5},"encoding":{"x":{"field":"x","type":"quantitative","scale":{"domain":[0,100]},"axis":{"title":"IFNGR1 ⟶"}},"y":{"field":"y","type":"quantitative","scale":{"domain":[0,100]},"axis":{"title":"Relative Cell #","labels":false,"titleFontSize":13,"titlePadding":1,"tickCount":5}},"stroke":{"field":"s","type":"nominal","title":null,"scale":{"domain":["C57Bl/6","MSGR1","B6.ifngr1-/-"],"range":["#2a22dd","#e02525","#62d02c"]}}}},
   {"width":57,"height":78,"layer":[
    {"data":{"name":"bars"},"transform":[{"filter":"datum.p==='A3'"}],"mark":{"type":"bar","stroke":"#000","strokeWidth":1},"encoding":{"x":{"field":"s","type":"nominal","title":null,"scale":{"domain":["C57Bl/6","MSGR1","B6.ifngr1-/-"],"paddingInner":0.25,"paddingOuter":0.12}},"y":{"field":"v","type":"quantitative","scale":{"domain":[0,2000],"nice":false},"axis":{"title":"IFNGR1 MFI","values":[0,500,1000,1500,2000],"labelOverlap":false,"tickCount":12}},"fill":{"field":"s","type":"nominal","legend":null,"scale":{"domain":["C57Bl/6","MSGR1","B6.ifngr1-/-"],"range":["#1e1ba6","#d11f1f","#5cb82a"]}}}},
    {"data":{"name":"bars"},"transform":[{"filter":"datum.p==='A3'"}],"mark":{"type":"rule","color":"#000","strokeWidth":1},"encoding":{"x":{"field":"s","type":"nominal","title":null},"y":{"field":"v","type":"quantitative"},"y2":{"field":"e"}}},
    {"data":{"name":"bars"},"transform":[{"filter":"datum.p==='A3'"}],"mark":{"type":"tick","color":"#000","thickness":1,"size":7},"encoding":{"x":{"field":"s","type":"nominal","title":null},"y":{"field":"e","type":"quantitative"}}},
    {"data":{"name":"sig"},"transform":[{"filter":"datum.p==='A3'"}],"mark":{"type":"rule","color":"#000","strokeWidth":0.8},"encoding":{"x":{"field":"a","type":"nominal","title":null},"x2":{"field":"b"},"y":{"field":"y","type":"quantitative"}}},
    {"data":{"name":"sig"},"transform":[{"filter":"datum.p==='A3'"}],"mark":{"type":"text","fontSize":6.5,"fontWeight":"bold","baseline":"bottom","dy":-0.5},"encoding":{"x":{"field":"a","type":"nominal","title":null,"bandPosition":1},"y":{"field":"y","type":"quantitative"},"text":{"field":"t"}}}
   ]}
  ]},
  {"bounds":"flush","spacing":23,"hconcat":[
   {"width":77,"height":78,"view":{"stroke":"#9a9a9a","strokeWidth":0.8},"title":{"text":"Dendritic cell"},"data":{"name":"hist"},"transform":[{"filter":"datum.p==='A4'"}],"mark":{"type":"line","interpolate":"monotone","strokeWidth":1.5},"encoding":{"x":{"field":"x","type":"quantitative","scale":{"domain":[0,100]},"axis":{"title":"IFNGR1 ⟶"}},"y":{"field":"y","type":"quantitative","scale":{"domain":[0,100]},"axis":{"title":"Relative Cell #","labels":false,"titleFontSize":13,"titlePadding":1,"tickCount":5}},"stroke":{"field":"s","type":"nominal","title":null,"scale":{"domain":["C57Bl/6","MSGR1","B6.ifngr1-/-"],"range":["#2a22dd","#e02525","#62d02c"]}}}},
   {"width":65,"height":78,"layer":[
    {"data":{"name":"bars"},"transform":[{"filter":"datum.p==='A4'"}],"mark":{"type":"bar","stroke":"#000","strokeWidth":1},"encoding":{"x":{"field":"s","type":"nominal","title":null,"scale":{"domain":["C57Bl/6","MSGR1","B6.ifngr1-/-"],"paddingInner":0.25,"paddingOuter":0.12}},"y":{"field":"v","type":"quantitative","scale":{"domain":[0,2000],"nice":false},"axis":{"title":"IFNGR1 MFI","values":[0,500,1000,1500,2000],"labelOverlap":false,"tickCount":12}},"fill":{"field":"s","type":"nominal","legend":null,"scale":{"domain":["C57Bl/6","MSGR1","B6.ifngr1-/-"],"range":["#1e1ba6","#d11f1f","#5cb82a"]}}}},
    {"data":{"name":"bars"},"transform":[{"filter":"datum.p==='A4'"}],"mark":{"type":"rule","color":"#000","strokeWidth":1},"encoding":{"x":{"field":"s","type":"nominal","title":null},"y":{"field":"v","type":"quantitative"},"y2":{"field":"e"}}},
    {"data":{"name":"bars"},"transform":[{"filter":"datum.p==='A4'"}],"mark":{"type":"tick","color":"#000","thickness":1,"size":7},"encoding":{"x":{"field":"s","type":"nominal","title":null},"y":{"field":"e","type":"quantitative"}}},
    {"data":{"name":"sig"},"transform":[{"filter":"datum.p==='A4'"}],"mark":{"type":"rule","color":"#000","strokeWidth":0.8},"encoding":{"x":{"field":"a","type":"nominal","title":null},"x2":{"field":"b"},"y":{"field":"y","type":"quantitative"}}},
    {"data":{"name":"sig"},"transform":[{"filter":"datum.p==='A4'"}],"mark":{"type":"text","fontSize":6.5,"fontWeight":"bold","baseline":"bottom","dy":-0.5},"encoding":{"x":{"field":"a","type":"nominal","title":null,"bandPosition":1},"y":{"field":"y","type":"quantitative"},"text":{"field":"t"}}}
   ]}
  ]}
 ]}
]},
{"title":{"text":"B","fontSize":25,"anchor":"start","frame":"bounds","dx":-11,"offset":5},"spacing":18,"hconcat":[
 {"spacing":9,"hconcat":[
  {"bounds":"flush","spacing":28,"hconcat":[
   {"width":82,"height":78,"view":{"stroke":"#9a9a9a","strokeWidth":0.8},"title":{"text":"Monocyte"},"data":{"name":"hist"},"transform":[{"filter":"datum.p==='B1'"}],"mark":{"type":"line","interpolate":"monotone","strokeWidth":1.5},"encoding":{"x":{"field":"x","type":"quantitative","scale":{"domain":[0,100]},"axis":{"title":"IFNGR1 ⟶"}},"y":{"field":"y","type":"quantitative","scale":{"domain":[0,100]},"axis":{"title":"Relative Cell #","labels":false,"titleFontSize":13,"titlePadding":1,"tickCount":5}},"stroke":{"field":"s","type":"nominal","title":null,"scale":{"domain":["C57Bl/6","MSGR1","B6.ifngr1-/-"],"range":["#2a22dd","#e02525","#62d02c"]}}}},
   {"width":59,"height":78,"layer":[
    {"data":{"name":"bars"},"transform":[{"filter":"datum.p==='B1'"}],"mark":{"type":"bar","stroke":"#000","strokeWidth":1},"encoding":{"x":{"field":"s","type":"nominal","title":null,"scale":{"domain":["C57Bl/6","MSGR1","B6.ifngr1-/-"],"paddingInner":0.25,"paddingOuter":0.12}},"y":{"field":"v","type":"quantitative","scale":{"domain":[0,4000],"nice":false},"axis":{"title":"IFNGR1 MFI","values":[0,1000,2000,3000,4000],"labelOverlap":false,"tickCount":12}},"fill":{"field":"s","type":"nominal","legend":null,"scale":{"domain":["C57Bl/6","MSGR1","B6.ifngr1-/-"],"range":["#1e1ba6","#d11f1f","#5cb82a"]}}}},
    {"data":{"name":"bars"},"transform":[{"filter":"datum.p==='B1'"}],"mark":{"type":"rule","color":"#000","strokeWidth":1},"encoding":{"x":{"field":"s","type":"nominal","title":null},"y":{"field":"v","type":"quantitative"},"y2":{"field":"e"}}},
    {"data":{"name":"bars"},"transform":[{"filter":"datum.p==='B1'"}],"mark":{"type":"tick","color":"#000","thickness":1,"size":7},"encoding":{"x":{"field":"s","type":"nominal","title":null},"y":{"field":"e","type":"quantitative"}}},
    {"data":{"name":"sig"},"transform":[{"filter":"datum.p==='B1'"}],"mark":{"type":"rule","color":"#000","strokeWidth":0.8},"encoding":{"x":{"field":"a","type":"nominal","title":null},"x2":{"field":"b"},"y":{"field":"y","type":"quantitative"}}},
    {"data":{"name":"sig"},"transform":[{"filter":"datum.p==='B1'"}],"mark":{"type":"text","fontSize":6.5,"fontWeight":"bold","baseline":"bottom","dy":-0.5},"encoding":{"x":{"field":"a","type":"nominal","title":null,"bandPosition":1},"y":{"field":"y","type":"quantitative"},"text":{"field":"t"}}}
   ]}
  ]},
  {"bounds":"flush","spacing":18,"hconcat":[
   {"width":80,"height":78,"view":{"stroke":"#9a9a9a","strokeWidth":0.8},"title":{"text":"Macrophage"},"data":{"name":"hist"},"transform":[{"filter":"datum.p==='B2'"}],"mark":{"type":"line","interpolate":"monotone","strokeWidth":1.5},"encoding":{"x":{"field":"x","type":"quantitative","scale":{"domain":[0,100]},"axis":{"title":"IFNGR1 ⟶"}},"y":{"field":"y","type":"quantitative","scale":{"domain":[0,100]},"axis":{"title":"Relative Cell #","labels":false,"titleFontSize":13,"titlePadding":1,"tickCount":5}},"stroke":{"field":"s","type":"nominal","title":null,"scale":{"domain":["C57Bl/6","MSGR1","B6.ifngr1-/-"],"range":["#2a22dd","#e02525","#62d02c"]}}}},
   {"width":68,"height":78,"layer":[
    {"data":{"name":"bars"},"transform":[{"filter":"datum.p==='B2'"}],"mark":{"type":"bar","stroke":"#000","strokeWidth":1},"encoding":{"x":{"field":"s","type":"nominal","title":null,"scale":{"domain":["C57Bl/6","MSGR1","B6.ifngr1-/-"],"paddingInner":0.25,"paddingOuter":0.12}},"y":{"field":"v","type":"quantitative","scale":{"domain":[0,8000],"nice":false},"axis":{"title":"IFNGR1 MFI","values":[0,2000,4000,6000,8000],"labelOverlap":false,"tickCount":12}},"fill":{"field":"s","type":"nominal","legend":null,"scale":{"domain":["C57Bl/6","MSGR1","B6.ifngr1-/-"],"range":["#1e1ba6","#d11f1f","#5cb82a"]}}}},
    {"data":{"name":"bars"},"transform":[{"filter":"datum.p==='B2'"}],"mark":{"type":"rule","color":"#000","strokeWidth":1},"encoding":{"x":{"field":"s","type":"nominal","title":null},"y":{"field":"v","type":"quantitative"},"y2":{"field":"e"}}},
    {"data":{"name":"bars"},"transform":[{"filter":"datum.p==='B2'"}],"mark":{"type":"tick","color":"#000","thickness":1,"size":7},"encoding":{"x":{"field":"s","type":"nominal","title":null},"y":{"field":"e","type":"quantitative"}}},
    {"data":{"name":"sig"},"transform":[{"filter":"datum.p==='B2'"}],"mark":{"type":"rule","color":"#000","strokeWidth":0.8},"encoding":{"x":{"field":"a","type":"nominal","title":null},"x2":{"field":"b"},"y":{"field":"y","type":"quantitative"}}},
    {"data":{"name":"sig"},"transform":[{"filter":"datum.p==='B2'"}],"mark":{"type":"text","fontSize":6.5,"fontWeight":"bold","baseline":"bottom","dy":-0.5},"encoding":{"x":{"field":"a","type":"nominal","title":null,"bandPosition":1},"y":{"field":"y","type":"quantitative"},"text":{"field":"t"}}}
   ]}
  ]}
 ]},
 {"spacing":11,"hconcat":[
  {"bounds":"flush","spacing":30,"hconcat":[
   {"width":76,"height":78,"view":{"stroke":"#9a9a9a","strokeWidth":0.8},"title":{"text":"Neutrophil"},"data":{"name":"hist"},"transform":[{"filter":"datum.p==='B3'"}],"mark":{"type":"line","interpolate":"monotone","strokeWidth":1.5},"encoding":{"x":{"field":"x","type":"quantitative","scale":{"domain":[0,100]},"axis":{"title":"IFNGR1 ⟶"}},"y":{"field":"y","type":"quantitative","scale":{"domain":[0,100]},"axis":{"title":"Relative Cell #","labels":false,"titleFontSize":13,"titlePadding":1,"tickCount":5}},"stroke":{"field":"s","type":"nominal","title":null,"scale":{"domain":["C57Bl/6","MSGR1","B6.ifngr1-/-"],"range":["#2a22dd","#e02525","#62d02c"]}}}},
   {"width":57,"height":78,"layer":[
    {"data":{"name":"bars"},"transform":[{"filter":"datum.p==='B3'"}],"mark":{"type":"bar","stroke":"#000","strokeWidth":1},"encoding":{"x":{"field":"s","type":"nominal","title":null,"scale":{"domain":["C57Bl/6","MSGR1","B6.ifngr1-/-"],"paddingInner":0.25,"paddingOuter":0.12}},"y":{"field":"v","type":"quantitative","scale":{"domain":[0,2500],"nice":false},"axis":{"title":"IFNGR1 MFI","values":[0,500,1000,1500,2000,2500],"labelOverlap":false,"tickCount":12}},"fill":{"field":"s","type":"nominal","legend":null,"scale":{"domain":["C57Bl/6","MSGR1","B6.ifngr1-/-"],"range":["#1e1ba6","#d11f1f","#5cb82a"]}}}},
    {"data":{"name":"bars"},"transform":[{"filter":"datum.p==='B3'"}],"mark":{"type":"rule","color":"#000","strokeWidth":1},"encoding":{"x":{"field":"s","type":"nominal","title":null},"y":{"field":"v","type":"quantitative"},"y2":{"field":"e"}}},
    {"data":{"name":"bars"},"transform":[{"filter":"datum.p==='B3'"}],"mark":{"type":"tick","color":"#000","thickness":1,"size":7},"encoding":{"x":{"field":"s","type":"nominal","title":null},"y":{"field":"e","type":"quantitative"}}},
    {"data":{"name":"sig"},"transform":[{"filter":"datum.p==='B3'"}],"mark":{"type":"rule","color":"#000","strokeWidth":0.8},"encoding":{"x":{"field":"a","type":"nominal","title":null},"x2":{"field":"b"},"y":{"field":"y","type":"quantitative"}}},
    {"data":{"name":"sig"},"transform":[{"filter":"datum.p==='B3'"}],"mark":{"type":"text","fontSize":6.5,"fontWeight":"bold","baseline":"bottom","dy":-0.5},"encoding":{"x":{"field":"a","type":"nominal","title":null,"bandPosition":1},"y":{"field":"y","type":"quantitative"},"text":{"field":"t"}}}
   ]}
  ]},
  {"bounds":"flush","spacing":23,"hconcat":[
   {"width":77,"height":78,"view":{"stroke":"#9a9a9a","strokeWidth":0.8},"title":{"text":"Dendritic cell"},"data":{"name":"hist"},"transform":[{"filter":"datum.p==='B4'"}],"mark":{"type":"line","interpolate":"monotone","strokeWidth":1.5},"encoding":{"x":{"field":"x","type":"quantitative","scale":{"domain":[0,100]},"axis":{"title":"IFNGR1 ⟶"}},"y":{"field":"y","type":"quantitative","scale":{"domain":[0,100]},"axis":{"title":"Relative Cell #","labels":false,"titleFontSize":13,"titlePadding":1,"tickCount":5}},"stroke":{"field":"s","type":"nominal","title":null,"scale":{"domain":["C57Bl/6","MSGR1","B6.ifngr1-/-"],"range":["#2a22dd","#e02525","#62d02c"]}}}},
   {"width":65,"height":78,"layer":[
    {"data":{"name":"bars"},"transform":[{"filter":"datum.p==='B4'"}],"mark":{"type":"bar","stroke":"#000","strokeWidth":1},"encoding":{"x":{"field":"s","type":"nominal","title":null,"scale":{"domain":["C57Bl/6","MSGR1","B6.ifngr1-/-"],"paddingInner":0.25,"paddingOuter":0.12}},"y":{"field":"v","type":"quantitative","scale":{"domain":[0,3000],"nice":false},"axis":{"title":"IFNGR1 MFI","values":[0,1000,2000,3000],"labelOverlap":false,"tickCount":12}},"fill":{"field":"s","type":"nominal","legend":null,"scale":{"domain":["C57Bl/6","MSGR1","B6.ifngr1-/-"],"range":["#1e1ba6","#d11f1f","#5cb82a"]}}}},
    {"data":{"name":"bars"},"transform":[{"filter":"datum.p==='B4'"}],"mark":{"type":"rule","color":"#000","strokeWidth":1},"encoding":{"x":{"field":"s","type":"nominal","title":null},"y":{"field":"v","type":"quantitative"},"y2":{"field":"e"}}},
    {"data":{"name":"bars"},"transform":[{"filter":"datum.p==='B4'"}],"mark":{"type":"tick","color":"#000","thickness":1,"size":7},"encoding":{"x":{"field":"s","type":"nominal","title":null},"y":{"field":"e","type":"quantitative"}}},
    {"data":{"name":"sig"},"transform":[{"filter":"datum.p==='B4'"}],"mark":{"type":"rule","color":"#000","strokeWidth":0.8},"encoding":{"x":{"field":"a","type":"nominal","title":null},"x2":{"field":"b"},"y":{"field":"y","type":"quantitative"}}},
    {"data":{"name":"sig"},"transform":[{"filter":"datum.p==='B4'"}],"mark":{"type":"text","fontSize":6.5,"fontWeight":"bold","baseline":"bottom","dy":-0.5},"encoding":{"x":{"field":"a","type":"nominal","title":null,"bandPosition":1},"y":{"field":"y","type":"quantitative"},"text":{"field":"t"}}}
   ]}
  ]}
 ]}
]},
{"title":{"text":"C","fontSize":25,"anchor":"start","frame":"bounds","dx":-11,"offset":2},"spacing":18,"hconcat":[
 {"spacing":9,"hconcat":[
  {"bounds":"flush","spacing":28,"hconcat":[
   {"width":82,"height":78,"view":{"stroke":"#9a9a9a","strokeWidth":0.8},"title":{"text":"Monocyte"},"data":{"name":"hist"},"transform":[{"filter":"datum.p==='C1'"}],"mark":{"type":"line","interpolate":"monotone","strokeWidth":1.5},"encoding":{"x":{"field":"x","type":"quantitative","scale":{"domain":[0,100]},"axis":{"title":"IFNGR1 ⟶"}},"y":{"field":"y","type":"quantitative","scale":{"domain":[0,100]},"axis":{"title":"Relative Cell #","labels":false,"titleFontSize":13,"titlePadding":1,"tickCount":5}},"stroke":{"field":"s","type":"nominal","title":null,"scale":{"domain":["C57Bl/6","MSGR1","B6.ifngr1-/-"],"range":["#2a22dd","#e02525","#62d02c"]}}}},
   {"width":59,"height":78,"layer":[
    {"data":{"name":"bars"},"transform":[{"filter":"datum.p==='C1'"}],"mark":{"type":"bar","stroke":"#000","strokeWidth":1},"encoding":{"x":{"field":"s","type":"nominal","title":null,"scale":{"domain":["C57Bl/6","MSGR1","B6.ifngr1-/-"],"paddingInner":0.25,"paddingOuter":0.12}},"y":{"field":"v","type":"quantitative","scale":{"domain":[0,2000],"nice":false},"axis":{"title":"IFNGR1 MFI","values":[0,500,1000,1500,2000],"labelOverlap":false,"tickCount":12}},"fill":{"field":"s","type":"nominal","legend":null,"scale":{"domain":["C57Bl/6","MSGR1","B6.ifngr1-/-"],"range":["#1e1ba6","#d11f1f","#5cb82a"]}}}},
    {"data":{"name":"bars"},"transform":[{"filter":"datum.p==='C1'"}],"mark":{"type":"rule","color":"#000","strokeWidth":1},"encoding":{"x":{"field":"s","type":"nominal","title":null},"y":{"field":"v","type":"quantitative"},"y2":{"field":"e"}}},
    {"data":{"name":"bars"},"transform":[{"filter":"datum.p==='C1'"}],"mark":{"type":"tick","color":"#000","thickness":1,"size":7},"encoding":{"x":{"field":"s","type":"nominal","title":null},"y":{"field":"e","type":"quantitative"}}},
    {"data":{"name":"sig"},"transform":[{"filter":"datum.p==='C1'"}],"mark":{"type":"rule","color":"#000","strokeWidth":0.8},"encoding":{"x":{"field":"a","type":"nominal","title":null},"x2":{"field":"b"},"y":{"field":"y","type":"quantitative"}}},
    {"data":{"name":"sig"},"transform":[{"filter":"datum.p==='C1'"}],"mark":{"type":"text","fontSize":6.5,"fontWeight":"bold","baseline":"bottom","dy":-0.5},"encoding":{"x":{"field":"a","type":"nominal","title":null,"bandPosition":1},"y":{"field":"y","type":"quantitative"},"text":{"field":"t"}}}
   ]}
  ]},
  {"bounds":"flush","spacing":18,"hconcat":[
   {"width":80,"height":78,"view":{"stroke":"#9a9a9a","strokeWidth":0.8},"title":{"text":"Macrophage"},"data":{"name":"hist"},"transform":[{"filter":"datum.p==='C2'"}],"mark":{"type":"line","interpolate":"monotone","strokeWidth":1.5},"encoding":{"x":{"field":"x","type":"quantitative","scale":{"domain":[0,100]},"axis":{"title":"IFNGR1 ⟶"}},"y":{"field":"y","type":"quantitative","scale":{"domain":[0,100]},"axis":{"title":"Relative Cell #","labels":false,"titleFontSize":13,"titlePadding":1,"tickCount":5}},"stroke":{"field":"s","type":"nominal","title":null,"scale":{"domain":["C57Bl/6","MSGR1","B6.ifngr1-/-"],"range":["#2a22dd","#e02525","#62d02c"]}}}},
   {"width":68,"height":78,"layer":[
    {"data":{"name":"bars"},"transform":[{"filter":"datum.p==='C2'"}],"mark":{"type":"bar","stroke":"#000","strokeWidth":1},"encoding":{"x":{"field":"s","type":"nominal","title":null,"scale":{"domain":["C57Bl/6","MSGR1","B6.ifngr1-/-"],"paddingInner":0.25,"paddingOuter":0.12}},"y":{"field":"v","type":"quantitative","scale":{"domain":[0,1500],"nice":false},"axis":{"title":"IFNGR1 MFI","values":[0,500,1000,1500],"labelOverlap":false,"tickCount":12}},"fill":{"field":"s","type":"nominal","legend":null,"scale":{"domain":["C57Bl/6","MSGR1","B6.ifngr1-/-"],"range":["#1e1ba6","#d11f1f","#5cb82a"]}}}},
    {"data":{"name":"bars"},"transform":[{"filter":"datum.p==='C2'"}],"mark":{"type":"rule","color":"#000","strokeWidth":1},"encoding":{"x":{"field":"s","type":"nominal","title":null},"y":{"field":"v","type":"quantitative"},"y2":{"field":"e"}}},
    {"data":{"name":"bars"},"transform":[{"filter":"datum.p==='C2'"}],"mark":{"type":"tick","color":"#000","thickness":1,"size":7},"encoding":{"x":{"field":"s","type":"nominal","title":null},"y":{"field":"e","type":"quantitative"}}},
    {"data":{"name":"sig"},"transform":[{"filter":"datum.p==='C2'"}],"mark":{"type":"rule","color":"#000","strokeWidth":0.8},"encoding":{"x":{"field":"a","type":"nominal","title":null},"x2":{"field":"b"},"y":{"field":"y","type":"quantitative"}}},
    {"data":{"name":"sig"},"transform":[{"filter":"datum.p==='C2'"}],"mark":{"type":"text","fontSize":6.5,"fontWeight":"bold","baseline":"bottom","dy":-0.5},"encoding":{"x":{"field":"a","type":"nominal","title":null,"bandPosition":1},"y":{"field":"y","type":"quantitative"},"text":{"field":"t"}}}
   ]}
  ]}
 ]},
 {"spacing":11,"hconcat":[
  {"bounds":"flush","spacing":30,"hconcat":[
   {"width":76,"height":78,"view":{"stroke":"#9a9a9a","strokeWidth":0.8},"title":{"text":"Neutrophil"},"data":{"name":"hist"},"transform":[{"filter":"datum.p==='C3'"}],"mark":{"type":"line","interpolate":"monotone","strokeWidth":1.5},"encoding":{"x":{"field":"x","type":"quantitative","scale":{"domain":[0,100]},"axis":{"title":"IFNGR1 ⟶"}},"y":{"field":"y","type":"quantitative","scale":{"domain":[0,100]},"axis":{"title":"Relative Cell #","labels":false,"titleFontSize":13,"titlePadding":1,"tickCount":5}},"stroke":{"field":"s","type":"nominal","title":null,"scale":{"domain":["C57Bl/6","MSGR1","B6.ifngr1-/-"],"range":["#2a22dd","#e02525","#62d02c"]}}}},
   {"width":57,"height":78,"layer":[
    {"data":{"name":"bars"},"transform":[{"filter":"datum.p==='C3'"}],"mark":{"type":"bar","stroke":"#000","strokeWidth":1},"encoding":{"x":{"field":"s","type":"nominal","title":null,"scale":{"domain":["C57Bl/6","MSGR1","B6.ifngr1-/-"],"paddingInner":0.25,"paddingOuter":0.12}},"y":{"field":"v","type":"quantitative","scale":{"domain":[0,1500],"nice":false},"axis":{"title":"IFNGR1 MFI","values":[0,500,1000,1500],"labelOverlap":false,"tickCount":12}},"fill":{"field":"s","type":"nominal","legend":null,"scale":{"domain":["C57Bl/6","MSGR1","B6.ifngr1-/-"],"range":["#1e1ba6","#d11f1f","#5cb82a"]}}}},
    {"data":{"name":"bars"},"transform":[{"filter":"datum.p==='C3'"}],"mark":{"type":"rule","color":"#000","strokeWidth":1},"encoding":{"x":{"field":"s","type":"nominal","title":null},"y":{"field":"v","type":"quantitative"},"y2":{"field":"e"}}},
    {"data":{"name":"bars"},"transform":[{"filter":"datum.p==='C3'"}],"mark":{"type":"tick","color":"#000","thickness":1,"size":7},"encoding":{"x":{"field":"s","type":"nominal","title":null},"y":{"field":"e","type":"quantitative"}}},
    {"data":{"name":"sig"},"transform":[{"filter":"datum.p==='C3'"}],"mark":{"type":"rule","color":"#000","strokeWidth":0.8},"encoding":{"x":{"field":"a","type":"nominal","title":null},"x2":{"field":"b"},"y":{"field":"y","type":"quantitative"}}},
    {"data":{"name":"sig"},"transform":[{"filter":"datum.p==='C3'"}],"mark":{"type":"text","fontSize":6.5,"fontWeight":"bold","baseline":"bottom","dy":-0.5},"encoding":{"x":{"field":"a","type":"nominal","title":null,"bandPosition":1},"y":{"field":"y","type":"quantitative"},"text":{"field":"t"}}}
   ]}
  ]},
  {"bounds":"flush","spacing":23,"hconcat":[
   {"width":77,"height":78,"view":{"stroke":"#9a9a9a","strokeWidth":0.8},"title":{"text":"Dendritic cell"},"data":{"name":"hist"},"transform":[{"filter":"datum.p==='C4'"}],"mark":{"type":"line","interpolate":"monotone","strokeWidth":1.5},"encoding":{"x":{"field":"x","type":"quantitative","scale":{"domain":[0,100]},"axis":{"title":"IFNGR1 ⟶"}},"y":{"field":"y","type":"quantitative","scale":{"domain":[0,100]},"axis":{"title":"Relative Cell #","labels":false,"titleFontSize":13,"titlePadding":1,"tickCount":5}},"stroke":{"field":"s","type":"nominal","title":null,"scale":{"domain":["C57Bl/6","MSGR1","B6.ifngr1-/-"],"range":["#2a22dd","#e02525","#62d02c"]}}}},
   {"width":65,"height":78,"layer":[
    {"data":{"name":"bars"},"transform":[{"filter":"datum.p==='C4'"}],"mark":{"type":"bar","stroke":"#000","strokeWidth":1},"encoding":{"x":{"field":"s","type":"nominal","title":null,"scale":{"domain":["C57Bl/6","MSGR1","B6.ifngr1-/-"],"paddingInner":0.25,"paddingOuter":0.12}},"y":{"field":"v","type":"quantitative","scale":{"domain":[0,1000],"nice":false},"axis":{"title":"IFNGR1 MFI","values":[0,200,400,600,800,1000],"labelOverlap":false,"tickCount":12}},"fill":{"field":"s","type":"nominal","legend":null,"scale":{"domain":["C57Bl/6","MSGR1","B6.ifngr1-/-"],"range":["#1e1ba6","#d11f1f","#5cb82a"]}}}},
    {"data":{"name":"bars"},"transform":[{"filter":"datum.p==='C4'"}],"mark":{"type":"rule","color":"#000","strokeWidth":1},"encoding":{"x":{"field":"s","type":"nominal","title":null},"y":{"field":"v","type":"quantitative"},"y2":{"field":"e"}}},
    {"data":{"name":"bars"},"transform":[{"filter":"datum.p==='C4'"}],"mark":{"type":"tick","color":"#000","thickness":1,"size":7},"encoding":{"x":{"field":"s","type":"nominal","title":null},"y":{"field":"e","type":"quantitative"}}},
    {"data":{"name":"sig"},"transform":[{"filter":"datum.p==='C4'"}],"mark":{"type":"rule","color":"#000","strokeWidth":0.8},"encoding":{"x":{"field":"a","type":"nominal","title":null},"x2":{"field":"b"},"y":{"field":"y","type":"quantitative"}}},
    {"data":{"name":"sig"},"transform":[{"filter":"datum.p==='C4'"}],"mark":{"type":"text","fontSize":6.5,"fontWeight":"bold","baseline":"bottom","dy":-0.5},"encoding":{"x":{"field":"a","type":"nominal","title":null,"bandPosition":1},"y":{"field":"y","type":"quantitative"},"text":{"field":"t"}}}
   ]}
  ]}
 ]}
]}
]
}
